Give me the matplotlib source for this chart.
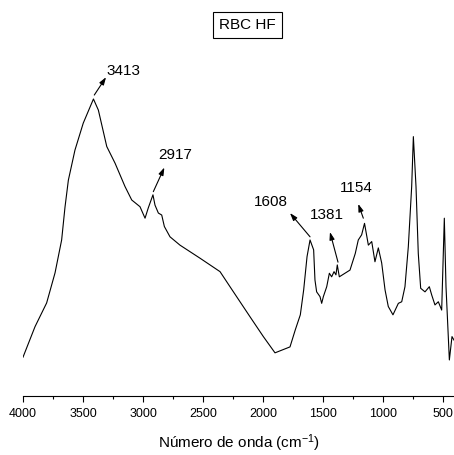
import matplotlib.pyplot as plt

plt.rcParams["font.family"] = ["Liberation Sans", "DejaVu Sans"]
plt.rcParams["mathtext.fontset"] = "custom"
plt.rcParams["mathtext.rm"] = "Liberation Sans"
plt.rcParams["mathtext.default"] = "regular"

# FTIR spectrum, RBC HF sample (transmittance, arbitrary units)
wavenumber = [
    4000, 3900, 3803, 3733, 3678, 3650, 3622, 3567, 3498, 3413,
    3372, 3302, 3233, 3150, 3094, 3025, 2983, 2956, 2917, 2900,
    2872, 2844, 2822, 2775, 2692, 2525, 2358, 2275, 2108, 1997,
    1900, 1775, 1731, 1689, 1661, 1633, 1608, 1578, 1567, 1553,
    1525, 1511, 1497, 1469, 1447, 1428, 1408, 1392, 1381, 1364,
    1275, 1231, 1206, 1178, 1154, 1122, 1094, 1067, 1039, 1011,
    983, 956, 917, 872, 844, 817, 789, 761, 747, 725,
    706, 686, 650, 614, 594, 567, 539, 511, 489, 475,
    447, 425, 408,
]
transmittance = [
    9.8, 17.5, 23.5, 31.1, 39.4, 47.7, 54.5, 62.1, 68.9, 75.0,
    72.2, 63.0, 58.8, 52.9, 49.5, 47.8, 44.9, 47.5, 50.8, 48.2,
    46.2, 45.7, 42.8, 40.2, 38.1, 34.8, 31.4, 27.6, 20.0, 15.0,
    10.9, 12.4, 16.7, 20.5, 26.8, 35.2, 39.4, 36.9, 29.3, 26.3,
    25.1, 23.4, 25.1, 27.6, 31.0, 30.1, 31.4, 30.6, 33.1, 30.1,
    31.8, 36.0, 39.4, 40.7, 43.6, 38.1, 39.0, 33.9, 37.4, 33.6,
    26.8, 22.6, 20.5, 23.4, 23.8, 27.6, 37.7, 52.9, 65.5, 52.9,
    36.0, 27.2, 26.3, 27.6, 25.5, 23.0, 23.8, 21.7, 44.9, 27.6,
    9.1, 15.0, 14.1,
]

# peak labels: text, arrow tail (on the peak), arrow head, text centre
peak_labels = ["3413", "2917", "1608", "1381", "1154"]
arrow_tail = [(3406, 76.0), (2914, 51.6), (1608, 40.2), (1375, 33.8), (1164, 44.9)]
arrow_head = [(3308, 80.5), (2822, 57.7), (1775, 46.2), (1442, 41.4), (1206, 48.5)]
label_pos = [(3302, 82.1), (2733, 60.9), (1933, 49.1), (1467, 45.7), (1219, 52.4)]

fig = plt.figure(figsize=(4.54, 4.55), dpi=100)
ax = fig.add_axes([23 / 454, 59 / 455, 432 / 454, 396 / 455])

ax.plot(wavenumber, transmittance, color="black", linewidth=0.8)

for i, lab in enumerate(peak_labels):
    ax.annotate(
        "",
        xy=arrow_head[i],
        xytext=arrow_tail[i],
        arrowprops=dict(arrowstyle="-|>,head_length=0.45,head_width=0.15",
                        color="black", linewidth=0.8, shrinkA=0, shrinkB=0),
    )
    ha = "left" if i == 0 else "center"
    ax.text(label_pos[i][0], label_pos[i][1], lab, ha=ha, va="center", fontsize=11)

ax.text(2127, 93.7, "RBC HF", ha="center", va="center", fontsize=11,
        bbox=dict(boxstyle="square,pad=0.4", facecolor="white",
                  edgecolor="black", linewidth=0.8))

ax.set_xlim(4000, 400)
ax.set_ylim(0, 100)
ax.set_xticks([4000, 3500, 3000, 2500, 2000, 1500, 1000, 500])
ax.set_xticks(range(3750, 400, -500), minor=True)
ax.tick_params(axis="x", which="major", direction="out", length=4.5, width=0.8,
               labelsize=9, pad=4)
ax.tick_params(axis="x", which="minor", direction="out", length=2.5, width=0.8)
ax.set_yticks([])
for side in ("left", "right", "top"):
    ax.spines[side].set_visible(False)
ax.spines["bottom"].set_linewidth(0.8)
ax.set_xlabel("Número de onda (cm$^{-1}$)", fontsize=11, labelpad=9)

fig.savefig("out.png", dpi=100)
